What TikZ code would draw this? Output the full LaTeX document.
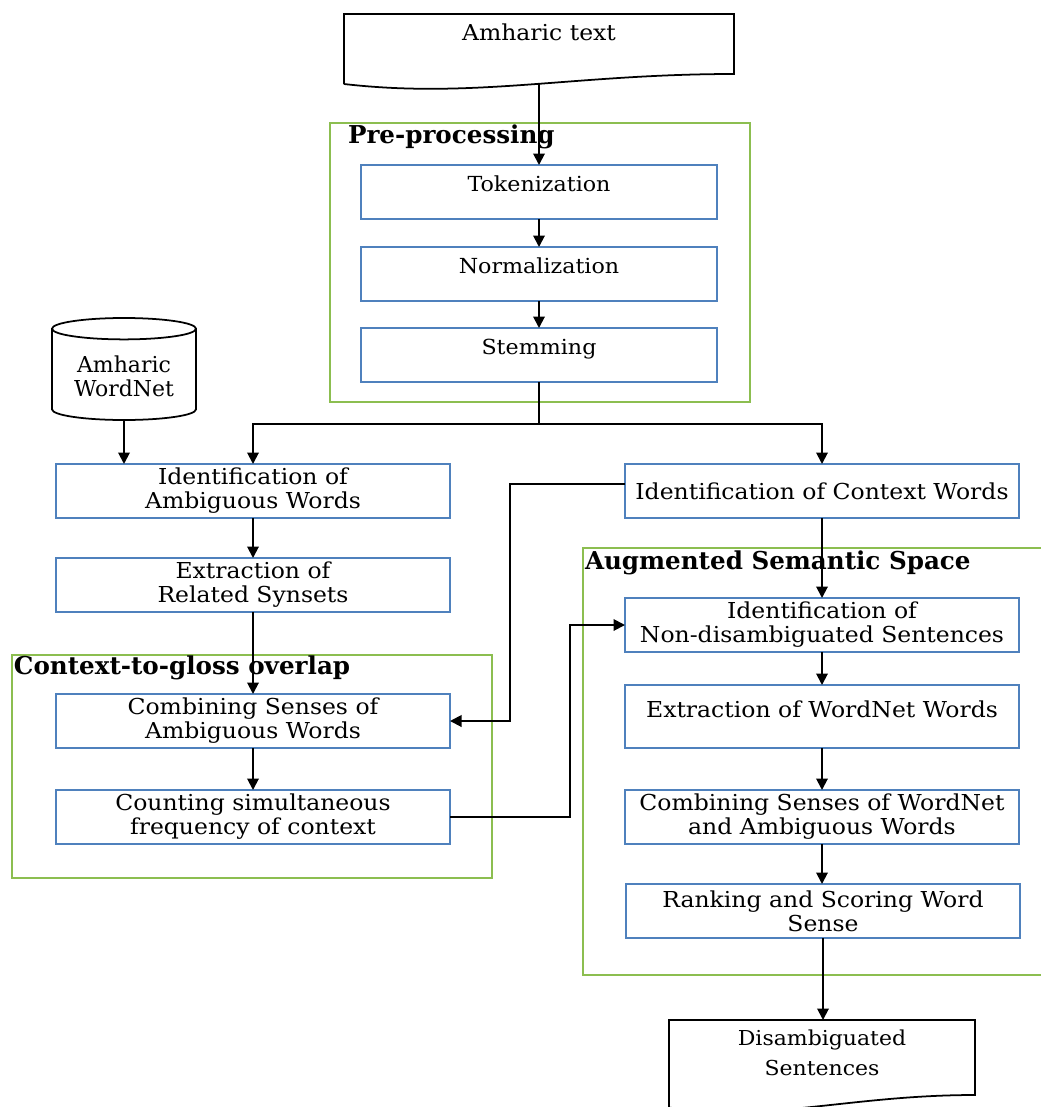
\documentclass[tikz,border=0pt]{standalone}
\usepackage{fontspec}
\setmainfont{DejaVu Serif}
\newfontfamily\boxfont[FakeStretch=1.07]{DejaVu Serif}
\usepackage{tikz}
\usetikzlibrary{positioning, calc, arrows.meta, shapes.geometric}
\definecolor{boxblue}{RGB}{79,129,189}
\definecolor{grpgreen}{RGB}{140,190,80}

\begin{document}
\begin{tikzpicture}[
  every node/.append style={inner sep=2pt, outer sep=0pt},
  box/.style ={draw=boxblue, line width=0.8pt, minimum width=7.88cm, minimum height=1.08cm, align=center, font=\boxfont\fontsize{12.5}{13.6}\selectfont},
  pbox/.style={box, minimum width=7.12cm, text depth=0.32cm, font=\boxfont\fontsize{11.8}{13.6}\selectfont},
  grp/.style ={draw=grpgreen, line width=0.9pt},
  ttl/.style ={font=\fontsize{14}{16}\selectfont\bfseries, anchor=west, inner sep=0pt},
  docu/.style={align=center, inner xsep=0pt, inner ysep=0pt, font=\boxfont\fontsize{12.5}{17}\selectfont},
  outl/.style={line width=1pt},
  arr/.style ={-{Triangle[length=2.3mm, width=2.3mm]}, line width=1.1pt},
]
\useasboundingbox (0,0) rectangle (20.82,-22.14);

%% ─── groups: drawn first, behind everything ─────────────────────────────────
\node[grp, minimum width=8.4cm, minimum height=5.58cm]  (pre) at (10.8,  -5.25)  {};
\node[grp, minimum width=9.6cm, minimum height=4.46cm]  (cgo) at (5.04,  -15.33) {};
\node[grp, minimum width=9.26cm, minimum height=8.54cm] (ass) at (16.29, -15.23) {};
\node[ttl] (preT) at (6.96,  -2.74)  {Pre-processing};
\node[ttl] (cgoT) at (0.28,  -13.36) {Context-to-gloss overlap};
\node[ttl] (assT) at (11.70, -11.26) {Augmented Semantic Space};

%% ─── input document ─────────────────────────────────────────────────────────
\node[docu, minimum width=7.8cm, text height=0.54cm, text depth=0.86cm] (txt) at (10.78, -0.98) {Amharic text};
\draw[outl] (txt.south west) -- (txt.north west) -- (txt.north east)
  -- ([yshift=0.2cm]txt.south east) .. controls +(-3.2,0) and +(2.6,-0.3) .. (txt.south west);

%% ─── pre-processing ─────────────────────────────────────────────────────────
\node[pbox] (tok) at (10.78, -3.84) {Tokenization};
\node[pbox] (nrm) at (10.78, -5.48) {Normalization};
\node[pbox] (stm) at (10.78, -7.10) {Stemming};
\draw[arr] (txt) -- (tok);
\draw[arr] (tok) -- (nrm);
\draw[arr] (nrm) -- (stm);

%% ─── left branch ────────────────────────────────────────────────────────────
\node[draw, outl, cylinder, shape border rotate=90, aspect=0.2, minimum width=2.88cm, minimum height=2.04cm,
      anchor=shape center, align=center, font=\fontsize{12.5}{13.6}\selectfont] (wn) at (2.48, -7.38) {Amharic\\WordNet};
\node[box] (amb) at (5.06, -9.82)  {Identification of\\Ambiguous Words};
\node[box] (ext) at (5.06, -11.70) {Extraction of\\Related Synsets};
\node[box] (cmb) at (5.06, -14.42) {Combining Senses of\\Ambiguous Words};
\node[box] (cnt) at (5.06, -16.34) {Counting simultaneous\\frequency of context};

%% ─── right branch ───────────────────────────────────────────────────────────
\node[box] (ctx) at (16.44, -9.82)  {Identification of Context Words};
\node[box] (non) at (16.44, -12.50) {Identification of\\Non-disambiguated Sentences};
\node[box, minimum height=1.26cm, text depth=0.3cm] (wnw) at (16.44, -14.33) {Extraction of WordNet Words};
\node[box] (cws) at (16.44, -16.34) {Combining Senses of WordNet\\and Ambiguous Words};
\node[box] (rnk) at (16.46, -18.22) {Ranking and Scoring Word\\Sense};

%% ─── output document ────────────────────────────────────────────────────────
\node[docu, minimum width=6.12cm, anchor=north, inner ysep=0.2cm, font=\boxfont\fontsize{11.7}{17}\selectfont] (dis) at (16.44, -20.4) {Disambiguated\\Sentences};
\draw[outl] ([yshift=-1.75cm]dis.north west) -- (dis.north west) -- (dis.north east)
  -- ([yshift=-1.5cm]dis.north east) .. controls +(-2.5,0) and +(2.0,-0.3) .. ([yshift=-1.75cm]dis.north west);

%% ─── connectors ─────────────────────────────────────────────────────────────
\coordinate (sp) at (10.78, -8.48);
\draw[line width=1.1pt] (stm.south) -- (sp);
\draw[arr] (sp) -| (amb.north);
\draw[arr] (sp) -| (ctx.north);
\draw[arr] (wn.south) -- (wn.south |- amb.north);
\draw[arr] (amb) -- (ext);
\draw[arr] (ext) -- (cmb);
\draw[arr] (cmb) -- (cnt);
\draw[arr] ([yshift=0.14cm]ctx.west) -- ++(-2.3,0) |- (cmb.east);
\draw[arr] (cnt.east) -- ++(2.4,0) |- (non.west);
\draw[arr] (ctx) -- (non);
\draw[arr] (non) -- (wnw);
\draw[arr] (wnw) -- (cws);
\draw[arr] (cws.south) -- (cws.south |- rnk.north);
\draw[arr] (rnk.south) -- (rnk.south |- dis.north);

\end{tikzpicture}
\end{document}
